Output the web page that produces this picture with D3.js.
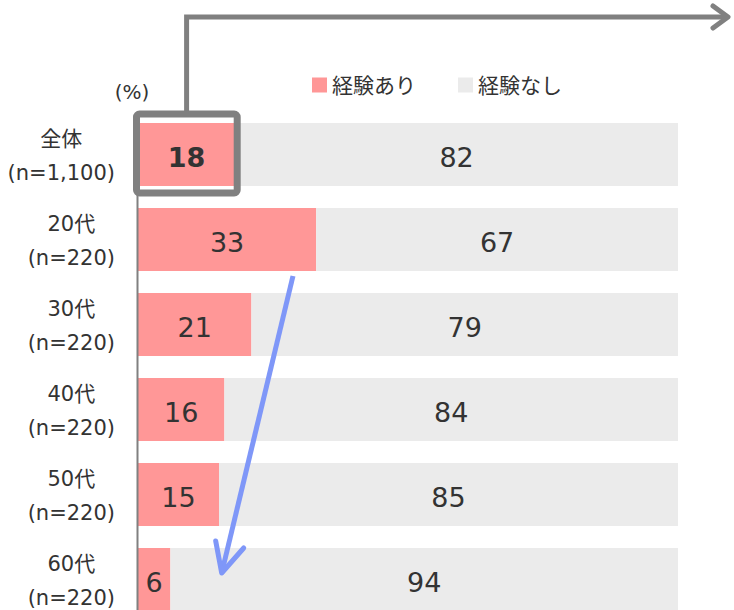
<!DOCTYPE html>
<html>
<head>
<meta charset="utf-8">
<script src="https://cdn.jsdelivr.net/npm/d3@7"></script>
<style>
  body { margin: 0; background: white; }
  text { font-family: "DejaVu Sans", "Noto Sans CJK JP", sans-serif; fill: #333333; }
</style>
</head>
<body>
<div id="canvas"></div>
<script>
var w = 734;
var h = 610;

// data
var categories = ["全体", "20代", "30代", "40代", "50代", "60代"];
var sampleSizes = ["(n=1,100)", "(n=220)", "(n=220)", "(n=220)", "(n=220)", "(n=220)"];
var experienced = [18, 33, 21, 16, 15, 6];
var notExperienced = [82, 67, 79, 84, 85, 94];
var seriesNames = ["経験あり", "経験なし"];
var seriesColors = ["#ff9797", "#ebebeb"];

var rows = categories.map(function (c, i) {
  return { cat: c, n: sampleSizes[i], yes: experienced[i], no: notExperienced[i] };
});

var xScale = d3.scaleLinear()
               .domain([0, 100])
               .range([138, 678]);

var yScale = d3.scaleBand()
               .domain(categories)
               .range([112, 622])
               .paddingInner(22 / 85)
               .paddingOuter(11 / 85);

var canvas = d3.select("#canvas")
               .append("svg")
               .attr("width", w)
               .attr("height", h)
               .style("background-color", "white");

// bars: experienced
canvas.selectAll("rect.yes")
      .data(rows)
      .join("rect")
      .attr("class", "yes")
      .attr("x", xScale(0))
      .attr("y", d => yScale(d.cat))
      .attr("width", d => xScale(d.yes) - xScale(0))
      .attr("height", yScale.bandwidth())
      .attr("fill", seriesColors[0]);

// bars: not experienced
canvas.selectAll("rect.no")
      .data(rows)
      .join("rect")
      .attr("class", "no")
      .attr("x", d => xScale(d.yes))
      .attr("y", d => yScale(d.cat))
      .attr("width", d => xScale(d.yes + d.no) - xScale(d.yes))
      .attr("height", yScale.bandwidth())
      .attr("fill", seriesColors[1]);

// value labels
canvas.selectAll("text.vyes")
      .data(rows)
      .join("text")
      .attr("class", "vyes")
      .attr("x", d => (xScale(0) + xScale(d.yes)) / 2)
      .attr("y", d => yScale(d.cat) + yScale.bandwidth() / 2)
      .attr("dy", "0.45em")
      .attr("text-anchor", "middle")
      .style("font-size", "27px")
      .style("font-weight", (d, i) => i === 0 ? "bold" : "normal")
      .text(d => d.yes);

canvas.selectAll("text.vno")
      .data(rows)
      .join("text")
      .attr("class", "vno")
      .attr("x", d => (xScale(d.yes) + xScale(d.yes + d.no)) / 2)
      .attr("y", d => yScale(d.cat) + yScale.bandwidth() / 2)
      .attr("dy", "0.45em")
      .attr("text-anchor", "middle")
      .style("font-size", "27px")
      .text(d => d.no);

// left axis line
var yAxis = d3.axisLeft(yScale).tickSize(0).tickFormat("");
var axisG = canvas.append("g")
    .attr("transform", "translate(137, 0)")
    .call(yAxis);
axisG.select(".domain").attr("stroke", "#808080").attr("stroke-width", 2);

// category labels (two lines, block right aligned)
var labelRight = 115;
rows.forEach(function (d) {
  var mid = yScale(d.cat) + yScale.bandwidth() / 2;
  var line2 = canvas.append("text")
      .attr("x", labelRight)
      .attr("y", mid + 18)
      .attr("dy", "0.36em")
      .attr("text-anchor", "end")
      .style("font-size", "21px")
      .text(d.n);
  var bb = line2.node().getBBox();
  canvas.append("text")
      .attr("x", bb.x + bb.width / 2)
      .attr("y", mid - 16)
      .attr("dy", "0.36em")
      .attr("text-anchor", "middle")
      .style("font-size", "21px")
      .text(d.cat);
});

// unit
canvas.append("text")
    .attr("x", 132)
    .attr("y", 92)
    .attr("dy", "0.36em")
    .attr("text-anchor", "middle")
    .style("font-size", "20px")
    .text("(%)");

// legend
var legendX = [312, 458];
seriesNames.forEach(function (name, i) {
  var g = canvas.append("g")
      .attr("class", "legend")
      .attr("transform", `translate(${legendX[i]}, 85)`);
  g.append("rect")
      .attr("x", 0)
      .attr("y", -7.5)
      .attr("width", 15)
      .attr("height", 15)
      .attr("fill", seriesColors[i]);
  g.append("text")
      .attr("x", 20)
      .attr("y", 0)
      .attr("dy", "0.36em")
      .style("font-size", "21px")
      .text(name);
});

// highlight box around the total's value
var top0 = yScale(categories[0]);
canvas.append("rect")
    .attr("x", xScale(0) - 1.5)
    .attr("y", top0 - 9)
    .attr("width", xScale(experienced[0]) - xScale(0) + 3.5)
    .attr("height", yScale.bandwidth() + 16)
    .attr("rx", 3)
    .attr("fill", "none")
    .attr("stroke", "#808080")
    .attr("stroke-width", 7);

// connector to the right
var cx = (xScale(0) + xScale(experienced[0])) / 2;
canvas.append("path")
    .attr("d", `M ${cx} ${top0 - 12} L ${cx} 17 L 728 17`)
    .attr("fill", "none")
    .attr("stroke", "#808080")
    .attr("stroke-width", 5);
canvas.append("path")
    .attr("d", "M 713 6 L 728 17 L 713 28")
    .attr("fill", "none")
    .attr("stroke", "#808080")
    .attr("stroke-width", 5)
    .attr("stroke-linecap", "round")
    .attr("stroke-linejoin", "round");

// blue trend arrow from 20代 down to 60代
var sx = xScale(28.7), sy = yScale(categories[1]) + yScale.bandwidth() + 5;
var ex = xScale(15.5), ey = yScale(categories[5]) + 25;
canvas.append("path")
    .attr("d", `M ${sx} ${sy} L ${ex} ${ey}`)
    .attr("stroke", "#7f97f8")
    .attr("stroke-width", 5);
canvas.append("path")
    .attr("d", `M ${ex - 6} ${ey - 32} L ${ex} ${ey} L ${ex + 22} ${ey - 25}`)
    .attr("fill", "none")
    .attr("stroke", "#7f97f8")
    .attr("stroke-width", 5)
    .attr("stroke-linecap", "round")
    .attr("stroke-linejoin", "round");
</script>
</body>
</html>
